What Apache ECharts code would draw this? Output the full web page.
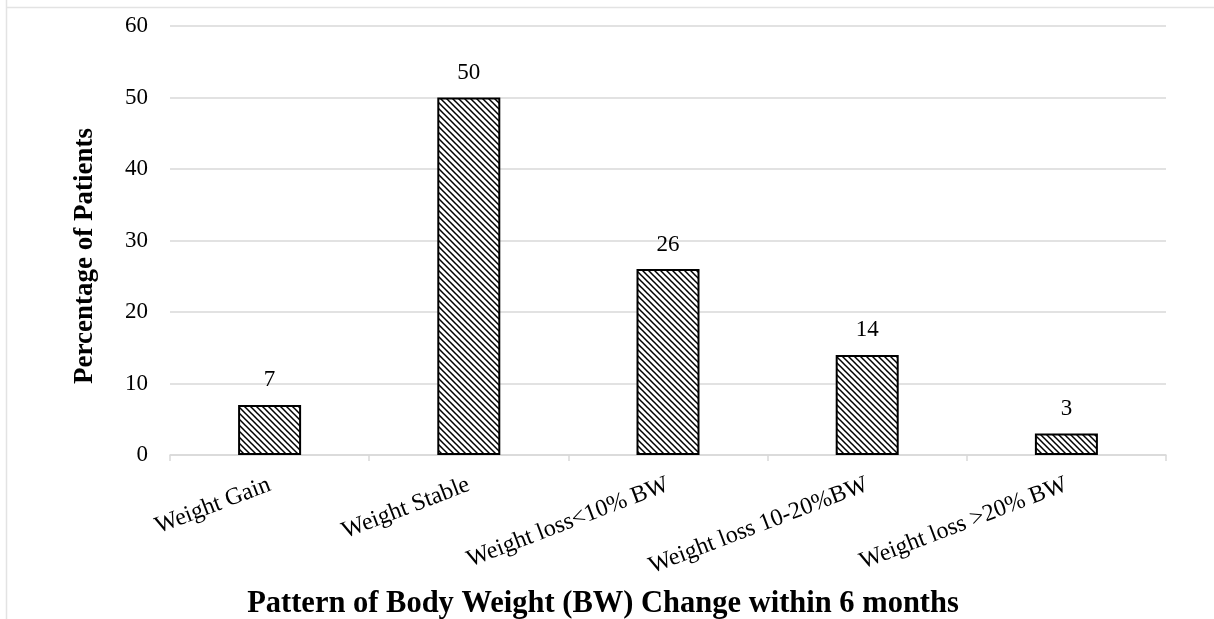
<!DOCTYPE html>
<html>
<head>
<meta charset="utf-8">
<script src="https://cdn.jsdelivr.net/npm/echarts@6/dist/echarts.min.js"></script>
<style>
  html, body { margin: 0; padding: 0; background: #fff; }
  #chart { width: 1214px; height: 619px; }
</style>
</head>
<body>
<div id="chart"></div>
<script>
const categories = ['Weight Gain', 'Weight Stable', 'Weight loss<10% BW', 'Weight loss 10-20%BW', 'Weight loss >20% BW'];
const percentages = [7, 50, 26, 14, 3];
const yTicks = [0, 10, 20, 30, 40, 50, 60];

// Diagonal hatch tile for the bar fill
function hatchPattern() {
  const size = 6;
  const c = document.createElement('canvas');
  c.width = size; c.height = size;
  const ctx = c.getContext('2d');
  ctx.fillStyle = '#ffffff';
  ctx.fillRect(0, 0, size, size);
  ctx.strokeStyle = '#000000';
  ctx.lineWidth = 1.5;
  ctx.beginPath();
  ctx.moveTo(-1, -1); ctx.lineTo(size + 1, size + 1);
  ctx.moveTo(-1, size - 1); ctx.lineTo(1, size + 1);
  ctx.moveTo(size - 1, -1); ctx.lineTo(size + 1, 1);
  ctx.stroke();
  return c;
}

const font = '"Liberation Serif", "Times New Roman", serif';
const chart = echarts.init(document.getElementById('chart'));

chart.setOption({
  animation: false,
  backgroundColor: '#ffffff',
  grid: { left: 170, right: 48, top: 26, bottom: 164 },
  xAxis: {
    type: 'category',
    data: categories,
    axisLine: { lineStyle: { color: '#d9d9d9', width: 1.5 } },
    axisTick: { show: true, length: 6, alignWithLabel: false, lineStyle: { color: '#d9d9d9', width: 1.5 } },
    axisLabel: {
      rotate: 21,
      interval: 0,
      margin: 29,
      color: '#000',
      fontFamily: font,
      fontSize: 24
    }
  },
  yAxis: {
    type: 'value',
    min: yTicks[0],
    max: yTicks[yTicks.length - 1],
    interval: 10,
    axisLine: { show: false },
    axisTick: { show: false },
    axisLabel: { color: '#000', fontFamily: font, fontSize: 23, margin: 22 },
    splitLine: { lineStyle: { color: '#d9d9d9', width: 1.5 } }
  },
  series: [{
    type: 'bar',
    data: percentages,
    barWidth: 63,
    itemStyle: {
      color: { image: hatchPattern(), repeat: 'repeat' },
      borderColor: '#000',
      borderWidth: 2
    },
    label: {
      show: true,
      position: 'top',
      distance: 13,
      color: '#000',
      fontFamily: font,
      fontSize: 23
    }
  }],
  graphic: [
    { type: 'line', shape: { x1: 6.5, y1: 0, x2: 6.5, y2: 619 }, style: { stroke: '#e3e3e3', lineWidth: 1.5 } },
    { type: 'line', shape: { x1: 6, y1: 7.5, x2: 1214, y2: 7.5 }, style: { stroke: '#e3e3e3', lineWidth: 1.5 } },
    {
      type: 'text',
      x: 85,
      y: 256,
      rotation: Math.PI / 2,
      style: {
        text: 'Percentage of Patients',
        font: 'bold 27px ' + font,
        fill: '#000',
        textAlign: 'center',
        textVerticalAlign: 'middle'
      }
    },
    {
      type: 'text',
      x: 603,
      y: 604,
      style: {
        text: 'Pattern of Body Weight (BW) Change within 6 months',
        font: 'bold 30.5px ' + font,
        fill: '#000',
        textAlign: 'center',
        textVerticalAlign: 'middle'
      }
    }
  ]
});
</script>
</body>
</html>
